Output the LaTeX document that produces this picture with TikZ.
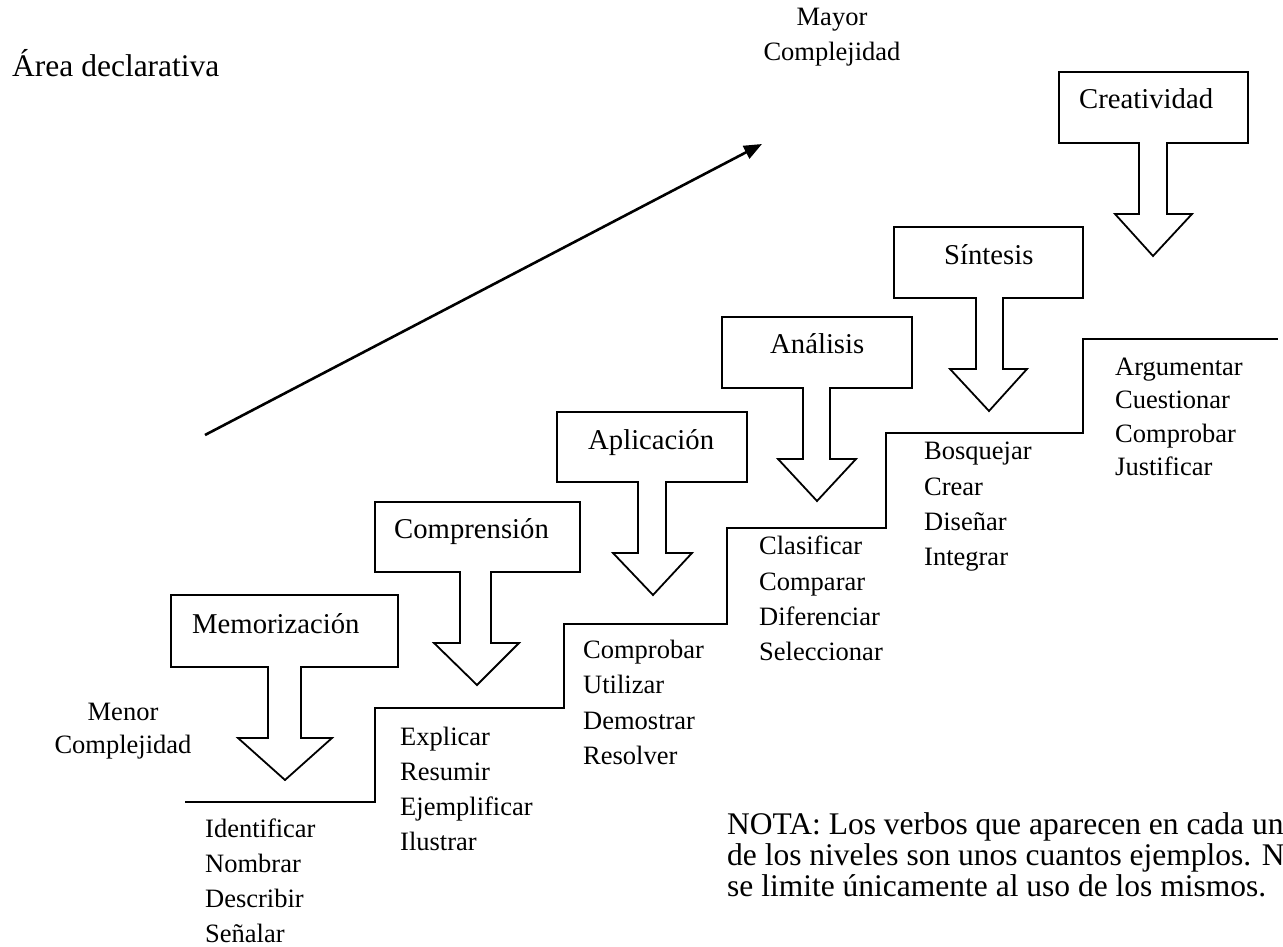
\documentclass[tikz,border=0pt]{standalone}
\usepackage{fontspec}
\setmainfont{Liberation Serif}
\usetikzlibrary{arrows.meta}
\begin{document}
\begin{tikzpicture}[x=1pt,y=-1pt,
  stair/.style={line width=1.8pt},
  callout/.style={draw,line width=1.8pt,fill=white,line join=miter},
  lbl/.style={anchor=base west,inner sep=0pt,font=\fontsize{28.7}{34}\selectfont},
  verb/.style={anchor=base west,inner sep=0pt,font=\fontsize{26.5}{32}\selectfont},
  note/.style={anchor=base west,inner sep=0pt,font=\fontsize{31.5}{36}\selectfont},
  cplx/.style={anchor=base,inner sep=0pt,font=\fontsize{26.5}{32}\selectfont},
  growth/.style={line width=2.6pt,-{Triangle[length=18pt,width=14pt]}}]
\useasboundingbox (0,0) rectangle (1283,947);
\clip (0,0) rectangle (1283,947);

% title and complexity labels
\node[note] (area) at (12,77) {Área declarativa};
\node[cplx] (mayor1) at (832,26) {Mayor};
\node[cplx] (mayor2) at (832,61) {Complejidad};
\node[cplx] (menor1) at (123,720) {Menor};
\node[cplx] (menor2) at (123,753) {Complejidad};

% growth arrow
\coordinate (gstart) at (205,435);
\coordinate (gend) at (762,144);
\draw[growth] (gstart) -- (gend);

% staircase
\draw[stair] (185,802) -- (375,802) -- (375,708) -- (564,708) -- (564,624)
  -- (727,624) -- (727,528) -- (886,528) -- (886,433) -- (1083,433)
  -- (1083,339) -- (1278,339);

% callout boxes with down arrows
\draw[callout] (171,595) -- (398,595) -- (398,667) -- (301,667) -- (301,738)
  -- (332,738) -- (285,780) -- (238,738) -- (268,738) -- (268,667) -- (171,667) -- cycle;
\draw[callout] (375,502) -- (580,502) -- (580,572) -- (491,572) -- (491,643)
  -- (519,643) -- (477,685) -- (434,643) -- (460,643) -- (460,572) -- (375,572) -- cycle;
\draw[callout] (557,412) -- (747,412) -- (747,482) -- (666,482) -- (666,553)
  -- (692,553) -- (653,595) -- (613,553) -- (638,553) -- (638,482) -- (557,482) -- cycle;
\draw[callout] (722,317) -- (912,317) -- (912,388) -- (830,388) -- (830,459)
  -- (856,459) -- (817,501) -- (778,459) -- (803,459) -- (803,388) -- (722,388) -- cycle;
\draw[callout] (894,227) -- (1083,227) -- (1083,298) -- (1003,298) -- (1003,369)
  -- (1027,369) -- (989,411) -- (950,369) -- (976,369) -- (976,298) -- (894,298) -- cycle;
\draw[callout] (1059,72) -- (1248,72) -- (1248,143) -- (1167,143) -- (1167,214)
  -- (1192,214) -- (1153,256) -- (1115,214) -- (1139,214) -- (1139,143) -- (1059,143) -- cycle;

% level labels
\node[lbl] (mem) at (192,633) {Memorización};
\node[lbl] (comp) at (394,538) {Comprensión};
\node[lbl] (apl) at (588,449) {Aplicación};
\node[lbl] (ana) at (770,353) {Análisis};
\node[lbl] (sin) at (944,264) {Síntesis};
\node[lbl] (cre) at (1079,109) {Creatividad};

% verbs
\node[verb] (v11) at (205,837) {Identificar};
\node[verb] (v12) at (205,872) {Nombrar};
\node[verb] (v13) at (205,907) {Describir};
\node[verb] (v14) at (205,942) {Señalar};

\node[verb] (v21) at (400,745) {Explicar};
\node[verb] (v22) at (400,780) {Resumir};
\node[verb] (v23) at (400,815) {Ejemplificar};
\node[verb] (v24) at (400,850) {Ilustrar};

\node[verb] (v31) at (583,658) {Comprobar};
\node[verb] (v32) at (583,693) {Utilizar};
\node[verb] (v33) at (583,729) {Demostrar};
\node[verb] (v34) at (583,764) {Resolver};

\node[verb] (v41) at (759,554) {Clasificar};
\node[verb] (v42) at (759,590) {Comparar};
\node[verb] (v43) at (759,625) {Diferenciar};
\node[verb] (v44) at (759,660) {Seleccionar};

\node[verb] (v51) at (924,459) {Bosquejar};
\node[verb] (v52) at (924,495) {Crear};
\node[verb] (v53) at (924,530) {Diseñar};
\node[verb] (v54) at (924,565) {Integrar};

\node[verb] (v61) at (1115,375) {Argumentar};
\node[verb] (v62) at (1115,408) {Cuestionar};
\node[verb] (v63) at (1115,442) {Comprobar};
\node[verb] (v64) at (1115,475) {Justificar};

% note
\node[note] (n1) at (727,834) {NOTA: Los verbos que aparecen en cada un};
\node[note] (n2) at (727,865) {de los niveles son unos cuantos ejemplos. N};
\node[note] (n3) at (727,896) {se limite únicamente al uso de los mismos.};
\end{tikzpicture}
\end{document}
